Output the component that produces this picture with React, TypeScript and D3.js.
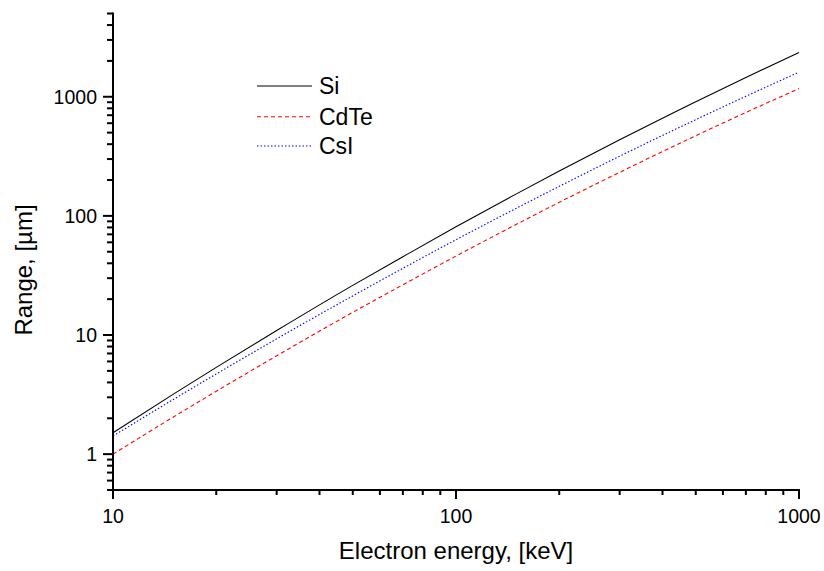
import React from "react";
import * as d3 from "d3";

// Electron energies (keV) at which the ranges are tabulated
const energies = [10, 15, 20, 30, 50, 70, 100, 150, 200, 300, 500, 700, 1000];

// CSDA range in µm for each detector material
const rangeSi = [1.51, 3.19, 5.35, 10.9, 26.1, 45.4, 81, 153, 238, 435, 909, 1452, 2350];
const rangeCdTe = [1.0, 2.05, 3.37, 6.69, 15.5, 26.4, 46, 84.9, 130, 232, 471, 738, 1172];
const rangeCsI = [1.42, 2.88, 4.71, 9.29, 21.3, 36.3, 63.1, 116, 177, 317, 643, 1009, 1607];

const xTickLabels = ["10", "100", "1000"];
const yTickLabels = ["1", "10", "100", "1000"];

const seriesNames = ["Si", "CdTe", "CsI"];

const W = 824;
const H = 571;
const FONT = "'Liberation Sans', Arial, Helvetica, sans-serif";

const x = d3.scaleLog().domain([10, 1000]).range([113, 799]);
const y = d3.scaleLog().domain([0.5, 5000]).range([490, 13.5]);

const styles = [
  { color: "#000000", dash: null as string | null },
  { color: "#ff0000", dash: "4,3" },
  { color: "#0000ff", dash: "1.5,2" },
];

export default function App() {
  const seriesData = [rangeSi, rangeCdTe, rangeCsI];
  const line = d3
    .line<[number, number]>()
    .x((d) => x(d[0]))
    .y((d) => y(d[1]))
    .curve(d3.curveMonotoneX);

  // major and minor ticks
  const xMajor = xTickLabels.map(Number);
  const xMinor: number[] = [];
  [10, 100].forEach((dec) => {
    for (let k = 2; k <= 9; k++) xMinor.push(dec * k);
  });
  const yMajor = yTickLabels.map(Number);
  const yMinor: number[] = [0.5, 0.6, 0.7, 0.8, 0.9];
  [1, 10, 100].forEach((dec) => {
    for (let k = 2; k <= 9; k++) yMinor.push(dec * k);
  });
  [2000, 3000, 4000, 5000].forEach((v) => yMinor.push(v));

  const x0 = x.range()[0];
  const y0 = y.range()[0];

  return (
    <svg
      width={W}
      height={H}
      style={{ position: "absolute", left: 0, top: 0, background: "#fff" }}
      fontFamily={FONT}
    >
      <rect width={W} height={H} fill="#fff" />
      {/* data curves */}
      {seriesData.map((vals, i) => (
        <path
          key={seriesNames[i]}
          d={line(energies.map((e, j) => [e, vals[j]] as [number, number])) || ""}
          fill="none"
          stroke={styles[i].color}
          strokeWidth={1.1}
          strokeDasharray={styles[i].dash || undefined}
        />
      ))}

      {/* x axis */}
      <g stroke="#000" strokeWidth={2}>
        <line x1={x0 - 1} x2={x.range()[1] + 1} y1={y0} y2={y0} />
        {xMajor.map((v) => (
          <line key={"xM" + v} x1={x(v)} x2={x(v)} y1={y0} y2={y0 + 9} />
        ))}
        {xMinor.map((v) => (
          <line key={"xm" + v} x1={x(v)} x2={x(v)} y1={y0} y2={y0 + 5} />
        ))}
      </g>
      {xTickLabels.map((t) => (
        <text key={"xl" + t} x={x(Number(t))} y={523} fontSize={19.5} textAnchor="middle" fill="#000">
          {t}
        </text>
      ))}

      {/* y axis */}
      <g stroke="#000" strokeWidth={2}>
        <line x1={x0} x2={x0} y1={y.range()[1] - 1} y2={y0 + 1} />
        {yMajor.map((v) => (
          <line key={"yM" + v} x1={x0 - 10} x2={x0} y1={y(v)} y2={y(v)} />
        ))}
        {yMinor.map((v) => (
          <line key={"ym" + v} x1={x0 - 6} x2={x0} y1={y(v)} y2={y(v)} />
        ))}
      </g>
      {yTickLabels.map((t) => (
        <text key={"yl" + t} x={97} y={y(Number(t)) + 7} fontSize={19.5} textAnchor="end" fill="#000">
          {t}
        </text>
      ))}

      {/* axis titles */}
      <text x={456} y={559} fontSize={24} textAnchor="middle" fill="#000">
        Electron energy, [keV]
      </text>
      <text
        transform={`translate(32,270) rotate(-90)`}
        fontSize={24}
        textAnchor="middle"
        fill="#000"
      >
        Range, [µm]
      </text>

      {/* legend */}
      {seriesNames.map((name, i) => {
        const ly = [86, 116.7, 146][i];
        return (
          <g key={"lg" + name}>
            <line
              x1={257}
              x2={312}
              y1={ly}
              y2={ly}
              stroke={styles[i].color}
              strokeWidth={1.1}
              strokeDasharray={styles[i].dash || undefined}
            />
            <text x={319} y={ly + 8} fontSize={23} fill="#000">
              {name}
            </text>
          </g>
        );
      })}
    </svg>
  );
}
